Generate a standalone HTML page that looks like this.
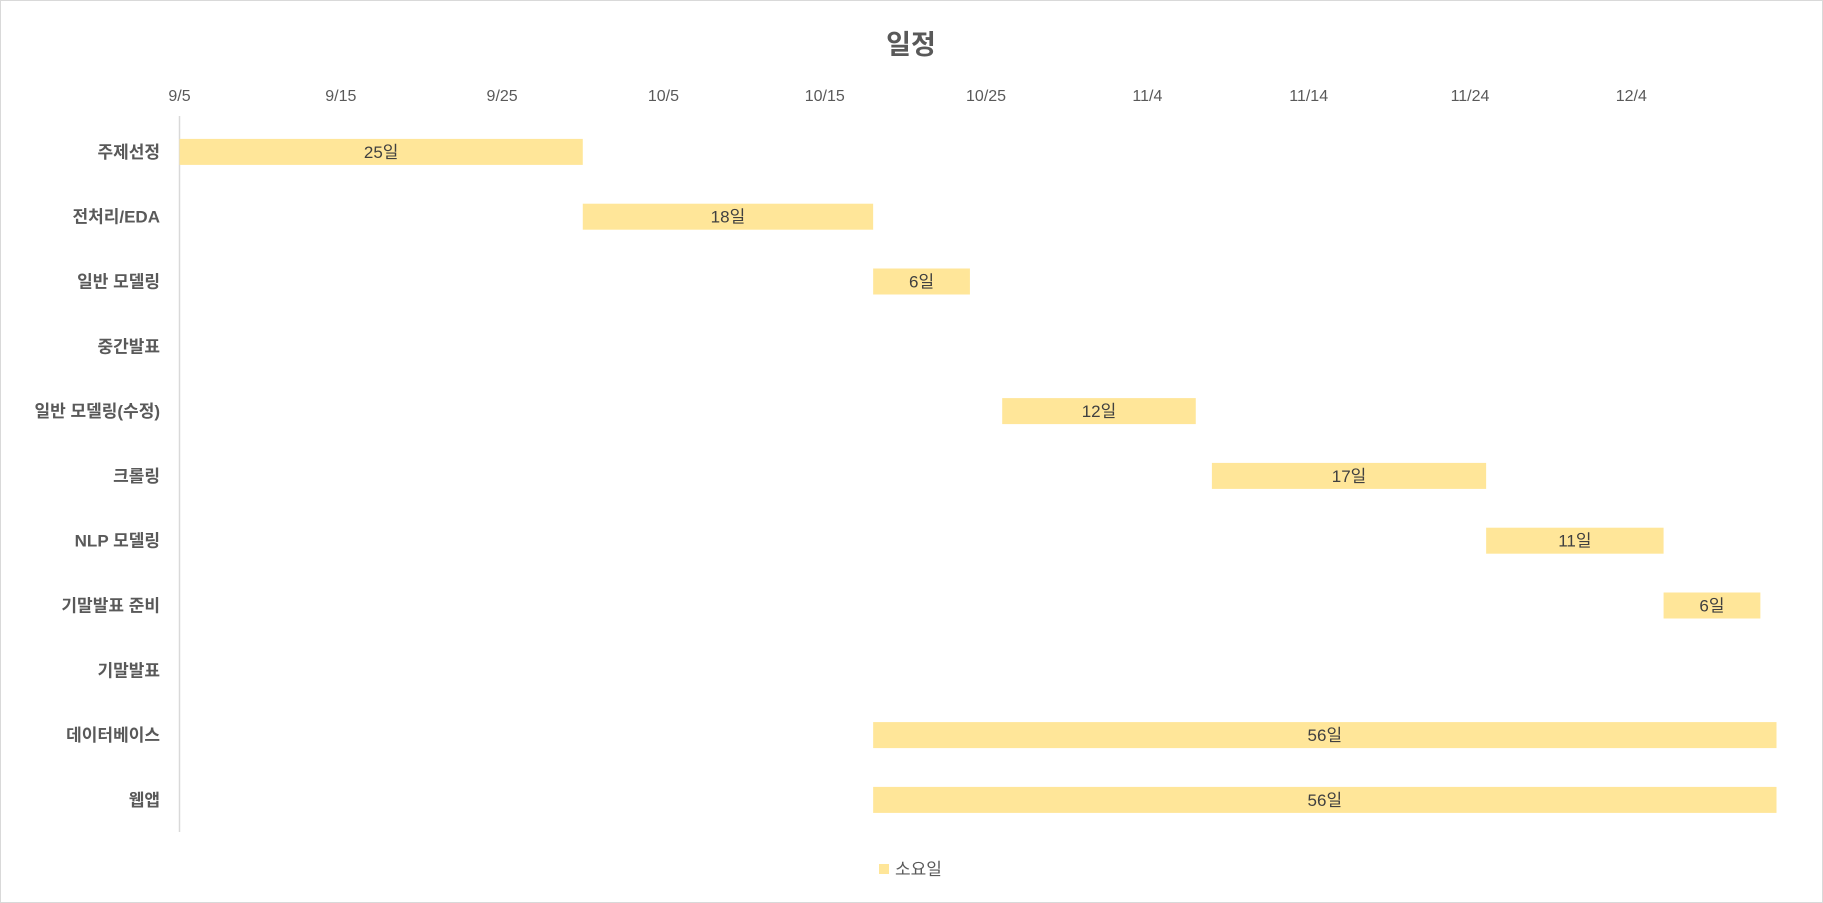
<!DOCTYPE html>
<html><head><meta charset="utf-8"><style>
body{margin:0;background:#fff;}
svg{display:block;font-family:"Liberation Sans","Noto Sans CJK KR",sans-serif;}
</style></head><body>
<svg id="chart" width="1823" height="903">
<rect x="0.5" y="0.5" width="1822" height="902" fill="#fff" stroke="#d9d9d9"/>
<text x="911" y="54" text-anchor="middle" font-size="27" font-weight="bold" fill="#595959">일정</text>
<line x1="179.5" y1="116" x2="179.5" y2="832" stroke="#d9d9d9" stroke-width="1.5"/>
<g id="bars"></g>
<rect x="879" y="864" width="10" height="10" fill="#FFE699"/>
<text x="895" y="875" font-size="17" fill="#595959">소요일</text>
</svg>
<script>
const categories=["주제선정","전처리/EDA","일반 모델링","중간발표","일반 모델링(수정)","크롤링","NLP 모델링","기말발표 준비","기말발표 ","데이터베이스 ","웹앱"];
const startDays=[0,25,43,43,51,64,81,92,98,43,43];
const durations=[25,18,6,0,12,17,11,6,0,56,56];
const tickDays=[0,10,20,30,40,50,60,70,80,90];
const tickLabels=["9/5","9/15","9/25","10/5","10/15","10/25","11/4","11/14","11/24","12/4"];
const NS="http://www.w3.org/2000/svg";
const svg=document.getElementById('chart');
const g=document.getElementById('bars');
const x0=179.5,x1=1776.5,dMax=99;
const xs=d=>x0+(x1-x0)*d/dMax;
const rowTop=119.5,rowH=64.8;
const yc=i=>rowTop+rowH*(i+0.5);
tickDays.forEach((d,i)=>{
  const t=document.createElementNS(NS,'text');
  t.setAttribute('x',xs(d));t.setAttribute('y',101);t.setAttribute('text-anchor','middle');
  t.setAttribute('font-size','16');t.setAttribute('fill','#595959');
  t.textContent=tickLabels[i];
  
  
  svg.appendChild(t);
});
categories.forEach((c,i)=>{
  const t=document.createElementNS(NS,'text');
  t.setAttribute('x',160);t.setAttribute('y',yc(i)+6);t.setAttribute('text-anchor','end');
  t.setAttribute('font-size','17');t.setAttribute('font-weight','bold');t.setAttribute('fill','#595959');
  t.textContent=c;
  
  
  svg.appendChild(t);
  if(durations[i]>0){
    const r=document.createElementNS(NS,'rect');
    const a=xs(startDays[i]),b=xs(startDays[i]+durations[i]);
    r.setAttribute('x',a);r.setAttribute('y',yc(i)-13);r.setAttribute('width',b-a);r.setAttribute('height',26);
    r.setAttribute('fill','#FFE699');
    
    
    g.appendChild(r);
    const l=document.createElementNS(NS,'text');
    l.setAttribute('x',(a+b)/2);l.setAttribute('y',yc(i)+6);l.setAttribute('text-anchor','middle');
    l.setAttribute('font-size','17');l.setAttribute('fill','#404040');
    l.textContent=durations[i]+'일';
    
    
    g.appendChild(l);
  }
});
</script>
</body></html>
